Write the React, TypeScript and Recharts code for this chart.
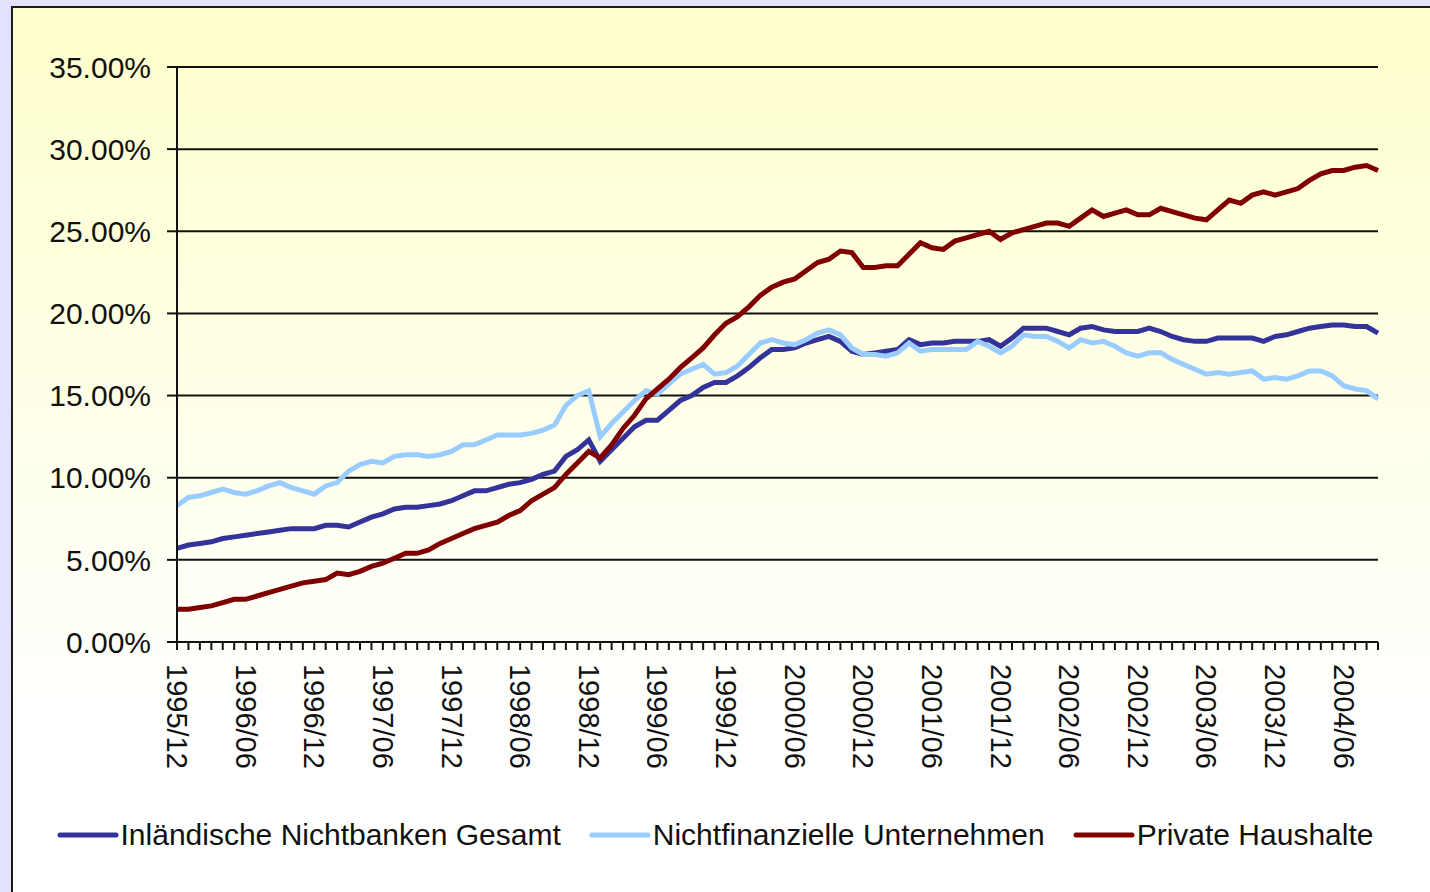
import { CartesianGrid, Legend, Line, LineChart, XAxis, YAxis } from "recharts";

// monthly series, 1995/12 .. 2004/09 (percent)
const GESAMT = [
  5.7, 5.9, 6.0, 6.1, 6.3, 6.4, 6.5, 6.6, 6.7, 6.8, 6.9, 6.9, 6.9, 7.1, 7.1, 7.0,
  7.3, 7.6, 7.8, 8.1, 8.2, 8.2, 8.3, 8.4, 8.6, 8.9, 9.2, 9.2, 9.4, 9.6, 9.7, 9.9,
  10.2, 10.4, 11.3, 11.7, 12.3, 11.0, 11.7, 12.4, 13.1, 13.5, 13.5, 14.1, 14.7, 15.0,
  15.5, 15.8, 15.8, 16.2, 16.7, 17.3, 17.8, 17.8, 17.9, 18.2, 18.4, 18.6, 18.3, 17.7,
  17.5, 17.6, 17.7, 17.8, 18.4, 18.1, 18.2, 18.2, 18.3, 18.3, 18.3, 18.4, 18.0, 18.5,
  19.1, 19.1, 19.1, 18.9, 18.7, 19.1, 19.2, 19.0, 18.9, 18.9, 18.9, 19.1, 18.9, 18.6,
  18.4, 18.3, 18.3, 18.5, 18.5, 18.5, 18.5, 18.3, 18.6, 18.7, 18.9, 19.1, 19.2, 19.3,
  19.3, 19.2, 19.2, 18.8,
];

const UNTERNEHMEN = [
  8.3, 8.8, 8.9, 9.1, 9.3, 9.1, 9.0, 9.2, 9.5, 9.7, 9.4, 9.2, 9.0, 9.5, 9.7, 10.4,
  10.8, 11.0, 10.9, 11.3, 11.4, 11.4, 11.3, 11.4, 11.6, 12.0, 12.0, 12.3, 12.6, 12.6,
  12.6, 12.7, 12.9, 13.2, 14.4, 15.0, 15.3, 12.5, 13.3, 14.0, 14.7, 15.3, 15.1, 15.7,
  16.3, 16.6, 16.9, 16.3, 16.4, 16.8, 17.5, 18.2, 18.4, 18.2, 18.1, 18.4, 18.8, 19.0,
  18.7, 17.9, 17.5, 17.5, 17.4, 17.6, 18.2, 17.7, 17.8, 17.8, 17.8, 17.8, 18.3, 18.0,
  17.6, 18.0, 18.7, 18.6, 18.6, 18.3, 17.9, 18.4, 18.2, 18.3, 18.0, 17.6, 17.4, 17.6,
  17.6, 17.2, 16.9, 16.6, 16.3, 16.4, 16.3, 16.4, 16.5, 16.0, 16.1, 16.0, 16.2, 16.5,
  16.5, 16.2, 15.6, 15.4, 15.3, 14.8,
];

const HAUSHALTE = [
  2.0, 2.0, 2.1, 2.2, 2.4, 2.6, 2.6, 2.8, 3.0, 3.2, 3.4, 3.6, 3.7, 3.8, 4.2, 4.1,
  4.3, 4.6, 4.8, 5.1, 5.4, 5.4, 5.6, 6.0, 6.3, 6.6, 6.9, 7.1, 7.3, 7.7, 8.0, 8.6,
  9.0, 9.4, 10.2, 10.9, 11.6, 11.2, 12.0, 13.0, 13.8, 14.8, 15.4, 16.0, 16.7, 17.3,
  17.9, 18.7, 19.4, 19.8, 20.4, 21.1, 21.6, 21.9, 22.1, 22.6, 23.1, 23.3, 23.8, 23.7,
  22.8, 22.8, 22.9, 22.9, 23.6, 24.3, 24.0, 23.9, 24.4, 24.6, 24.8, 25.0, 24.5, 24.9,
  25.1, 25.3, 25.5, 25.5, 25.3, 25.8, 26.3, 25.9, 26.1, 26.3, 26.0, 26.0, 26.4, 26.2,
  26.0, 25.8, 25.7, 26.3, 26.9, 26.7, 27.2, 27.4, 27.2, 27.4, 27.6, 28.1, 28.5, 28.7,
  28.7, 28.9, 29.0, 28.7,
];

const Y_TICKS = [0, 5, 10, 15, 20, 25, 30, 35];

const START_YEAR = 1995;
const START_MONTH = 12;

// category labels "YYYY/MM"
const MONTHS = GESAMT.map((_, i) => {
  const m = START_MONTH - 1 + i;
  const year = START_YEAR + Math.floor(m / 12);
  const mm = (m % 12) + 1;
  return `${year}/${mm < 10 ? "0" + mm : mm}`;
});

const data = MONTHS.map((month, i) => ({
  month,
  gesamt: GESAMT[i],
  unternehmen: UNTERNEHMEN[i],
  haushalte: HAUSHALTE[i],
}));

const FONT = '"Liberation Sans", Arial, sans-serif';

function MonthTick(props: any) {
  const { x, y, payload, index } = props;
  if (index % 6 !== 0) return null;
  return (
    <text
      x={x}
      y={y + 12}
      transform={`rotate(90, ${x}, ${y + 12})`}
      textAnchor="start"
      dominantBaseline="central"
      fontFamily={FONT}
      fontSize={29}
      fill="#111"
    >
      {payload.value}
    </text>
  );
}

function LegendContent(props: any) {
  const items = props.payload || [];
  return (
    <div
      style={{
        display: "flex",
        justifyContent: "center",
        alignItems: "center",
        gap: 28,
        fontFamily: FONT,
        fontSize: 30,
        color: "#111",
      }}
    >
      {items.map((it: any) => (
        <div key={it.value} style={{ display: "flex", alignItems: "center" }}>
          <svg width={62} height={10} style={{ marginRight: 2 }}>
            <line x1={3} y1={5} x2={59} y2={5} stroke={it.color} strokeWidth={5} strokeLinecap="round" />
          </svg>
          <span>{it.value}</span>
        </div>
      ))}
    </div>
  );
}

export default function App() {
  return (
    <div
      style={{
        position: "fixed",
        left: 0,
        top: 0,
        width: 1430,
        height: 892,
        overflow: "hidden",
        background: "#e2e2fc",
      }}
    >
      <div
        style={{
          position: "absolute",
          left: 11,
          top: 6,
          width: 1440,
          height: 900,
          border: "2px solid #1c1c1c",
          background: "linear-gradient(to bottom, #ffffcc 0%, #fffff0 55%, #ffffff 80%, #ffffff 100%)",
        }}
      />
      <div style={{ position: "absolute", left: 0, top: 0 }}>
        <LineChart
          width={1430}
          height={892}
          data={data}
          margin={{ top: 67, right: 52, bottom: 50, left: 57 }}
        >
          <CartesianGrid vertical={false} stroke="#111" strokeWidth={2} />
          <XAxis
            dataKey="month"
            interval={0}
            height={200}
            tick={<MonthTick />}
            tickSize={8}
            axisLine={{ stroke: "#111", strokeWidth: 2 }}
            tickLine={{ stroke: "#111", strokeWidth: 2 }}
          />
          <YAxis
            domain={[0, 35]}
            ticks={Y_TICKS}
            width={120}
            tickSize={10}
            tickMargin={16}
            tickFormatter={(v: number) => `${v.toFixed(2)}%`}
            tick={{ fontFamily: FONT, fontSize: 30, fill: "#111" }}
            axisLine={{ stroke: "#111", strokeWidth: 2 }}
            tickLine={{ stroke: "#111", strokeWidth: 2 }}
          />
          <Legend
            verticalAlign="middle"
            layout="horizontal"
            content={<LegendContent />}
            wrapperStyle={{ top: 818, left: 0, width: 1430 }}
          />
          <Line
            type="linear"
            dataKey="gesamt"
            name="Inländische Nichtbanken Gesamt"
            stroke="#333399"
            strokeWidth={5}
            dot={false}
            isAnimationActive={false}
          />
          <Line
            type="linear"
            dataKey="unternehmen"
            name="Nichtfinanzielle Unternehmen"
            stroke="#99ccff"
            strokeWidth={5}
            dot={false}
            isAnimationActive={false}
          />
          <Line
            type="linear"
            dataKey="haushalte"
            name="Private Haushalte"
            stroke="#800000"
            strokeWidth={5}
            dot={false}
            isAnimationActive={false}
          />
        </LineChart>
      </div>
    </div>
  );
}
